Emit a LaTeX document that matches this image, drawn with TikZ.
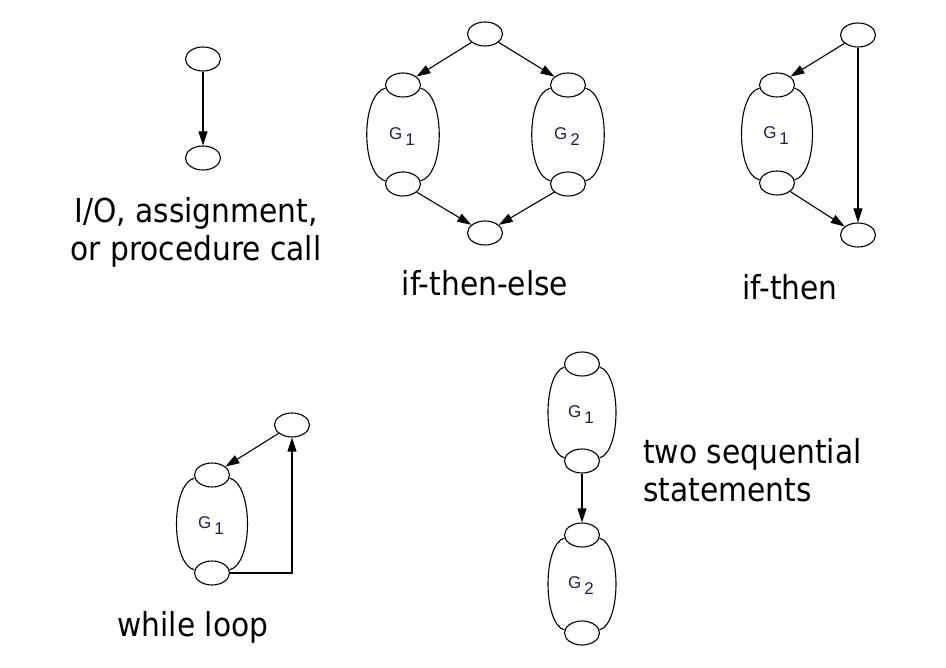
\documentclass[tikz,border=0pt]{standalone}
\usepackage{fontspec}
\setmainfont{DejaVu Sans}[FakeStretch=0.9]
\newfontfamily\gfont{Liberation Sans}
\usetikzlibrary{arrows.meta,calc,shapes.geometric}
\definecolor{gcol}{RGB}{30,30,75}
\tikzset{
  ell/.style={ellipse,draw,fill=white,line width=1.1pt,minimum width=35pt,minimum height=24pt,inner sep=0pt},
  arr/.style={line width=1.1pt,-{Triangle[length=14pt,width=9pt]}},
  body/.style={line width=1.1pt},
  lab/.style={font=\fontsize{33}{38}\selectfont,inner sep=0pt},
  glab/.style={font=\gfont\fontsize{17}{17}\selectfont,text=gcol,inner sep=0pt}
}
% #1 upper node, #2 lower node, #3 control offset
\newcommand{\gbody}[3]{%
  \draw[body] (#1.190) .. controls +(-#3,6) and +(-#3,-6) .. (#2.170);
  \draw[body] (#1.350) .. controls +(#3,6) and +(#3,-6) .. (#2.10);}
\newcommand{\glabel}[3]{\node[glab] at ($(#1)!0.5!(#2)+(-1,2)$) {G\,\raisebox{-6pt}{#3}};}
\begin{document}
\begin{tikzpicture}[x=1pt,y=-1pt]
\useasboundingbox (0,0) rectangle (946,668);
% I/O
\node[ell] (a1) at (203,59) {};
\node[ell] (a2) at (203,158) {};
\draw[arr] (a1) -- (a2);
\node[lab,align=center] (la) at (196,232) {I/O, assignment,\\or procedure call};
% if-then-else
\node[ell] (t) at (485,34) {};
\node[ell] (g1u) at (403,85) {};
\node[ell] (g1l) at (403,184) {};
\node[ell] (g2u) at (568,85) {};
\node[ell] (g2l) at (568,184) {};
\node[ell] (b) at (485,233) {};
\gbody{g1u}{g1l}{25}\gbody{g2u}{g2l}{25}
\glabel{g1u}{g1l}{1}\glabel{g2u}{g2l}{2}
\draw[arr] (t) -- (g1u);
\draw[arr] (t) -- (g2u);
\draw[arr] (g1l) -- (b);
\draw[arr] (g2l) -- (b);
\node[lab] (lite) at (485,283) {if-then-else};
% if-then
\node[ell] (it) at (858,35) {};
\node[ell] (ig1u) at (777,85) {};
\node[ell] (ig1l) at (777,183) {};
\node[ell] (ib) at (858,235) {};
\gbody{ig1u}{ig1l}{24}
\glabel{ig1u}{ig1l}{1}
\draw[arr] (it) -- (ig1u);
\draw[arr] (ig1l) -- (ib);
\draw[arr] (it) -- (ib);
\node[lab] (lit) at (790,287) {if-then};
% while loop
\node[ell] (wt) at (292,425) {};
\node[ell] (wu) at (212,475) {};
\node[ell] (wl) at (212,573) {};
\gbody{wu}{wl}{24}
\glabel{wu}{wl}{1}
\draw[arr] (wt) -- (wu);
\draw[arr] (wl.east) -| (wt.south);
\node[lab] (lw) at (193,627) {while loop};
% sequential
\node[ell] (s1u) at (582,364) {};
\node[ell] (s1l) at (582,461) {};
\node[ell] (s2u) at (582,535) {};
\node[ell] (s2l) at (582,633) {};
\gbody{s1u}{s1l}{22}\gbody{s2u}{s2l}{22}
\glabel{s1u}{s1l}{1}\glabel{s2u}{s2l}{2}
\draw[arr] (s1l) -- (s2u);
\node[lab,align=left,anchor=west] (ls) at (643,470) {two sequential\\statements};
\end{tikzpicture}
\end{document}
